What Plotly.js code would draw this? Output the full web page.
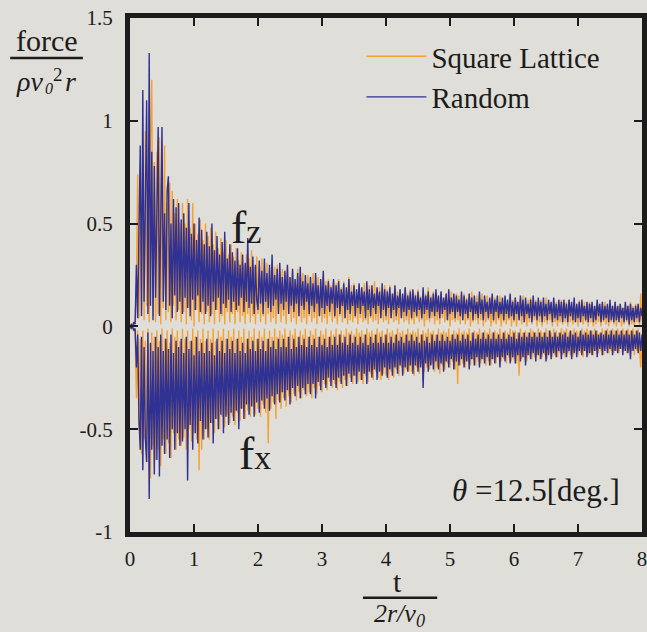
<!DOCTYPE html>
<html>
<head>
<meta charset="utf-8">
<script src="https://cdn.plot.ly/plotly-3.0.1.min.js"></script>
<style>html,body{margin:0;padding:0;background:#e0ded9;}#chart{width:647px;height:632px;}</style>
</head>
<body>
<div id="chart"></div>
<script>
// Sampling: t starts at 0, step 0.02 (in units of 2r/v0), 401 samples per series
const tStart = 0;
const tStep = 0.02;

const fzSquare = [
0,0,0.01,0.02,0.03,0.2,0.74,0.04,0.5,0.08,0.7,0.03,0.95,0.1,0.6,0.02,0.9,1.2,0.05,0.8,
0.02,0.85,0.06,0.92,0.01,0.75,0.09,0.88,0.03,0.6,0.07,0.7,0.02,0.66,0.1,0.55,0.03,0.62,0.08,0.5,
0.02,0.6,0.07,0.5,0.01,0.62,0.09,0.48,0.03,0.6,0.0,0.5,0.08,0.45,0.02,0.52,0.06,0.42,0.01,0.5,
0.07,0.44,0.02,0.48,0.06,0.4,0.01,0.46,0.08,0.38,0.02,0.43,0.05,0.36,0.01,0.42,0.07,0.35,0.02,0.4,
0.06,0.34,0.01,0.38,0.07,0.32,0.02,0.36,0.05,0.3,0.01,0.35,0.06,0.33,0.02,0.37,0.05,0.29,0.01,0.34,
0.06,0.3,0.02,0.33,0.05,0.28,0.01,0.31,0.06,0.27,0.02,0.32,0.04,0.29,0.01,0.3,0.06,0.26,0.02,0.28,
0.05,0.26,0.01,0.29,0.06,0.24,0.02,0.27,0.04,0.23,0.01,0.28,0.05,0.25,0.02,0.26,0.04,0.22,0.01,0.25,
0.05,0.23,0.02,0.26,0.04,0.21,0.01,0.24,0.05,0.2,0.02,0.25,0.04,0.22,0.01,0.23,0.05,0.2,0.02,0.22,
0.04,0.21,0.01,0.23,0.05,0.19,0.02,0.22,0.04,0.18,0.01,0.24,0.03,0.2,0.02,0.21,0.04,0.18,0.01,0.2,
0.04,0.19,0.02,0.21,0.03,0.18,0.01,0.2,0.04,0.17,0.02,0.22,0.03,0.18,0.01,0.19,0.04,0.17,0.02,0.2,
0.03,0.18,0.01,0.2,0.04,0.16,0.02,0.19,0.03,0.17,0.01,0.18,0.04,0.15,0.02,0.19,0.03,0.16,0.01,0.18,
0.03,0.17,0.01,0.16,0.04,0.18,0.02,0.15,0.03,0.17,0.0,0.16,0.03,0.19,0.02,0.15,0.04,0.17,0.01,0.16,
0.03,0.15,0.01,0.17,0.04,0.14,0.02,0.16,0.03,0.15,0.0,0.17,0.03,0.14,0.02,0.16,0.03,0.15,0.01,0.14,
0.03,0.16,0.01,0.14,0.03,0.15,0.0,0.17,0.02,0.13,0.03,0.15,0.01,0.14,0.03,0.16,0.0,0.13,0.02,0.15,
0.03,0.13,0.0,0.15,0.02,0.14,0.01,0.12,0.03,0.15,0.0,0.13,0.02,0.14,0.01,0.12,0.03,0.15,0.0,0.13,
0.02,0.14,0.0,0.12,0.03,0.13,0.01,0.15,0.02,0.11,0.0,0.13,0.02,0.14,0.01,0.12,0.03,0.13,0.0,0.12,
0.02,0.13,0.0,0.11,0.02,0.14,0.01,0.12,0.03,0.11,0.0,0.13,0.02,0.12,0.0,0.11,0.02,0.13,0.01,0.12,
0.02,0.12,0.0,0.13,0.02,0.1,0.01,0.12,0.02,0.11,0.0,0.13,0.02,0.1,0.01,0.12,0.02,0.11,0.0,0.12,
0.02,0.11,0.0,0.1,0.01,0.12,0.02,0.1,0.0,0.11,0.02,0.12,0.01,0.1,0.0,0.11,0.02,0.1,0.01,0.12,
0.0,0.1,0.02,0.11,0.0,0.09,0.01,0.11,0.02,0.1,0.0,0.12,0.01,0.1,0.0,0.11,0.02,0.1,0.0,0.16,
0.03];

const fzRandom = [
0,0.01,0,0.02,0.01,0.3,0.04,0.62,0.88,0.05,1.15,0.12,0.7,1.1,0.06,1.33,0.1,0.85,0.03,0.78,
0.14,0.6,0.97,0.05,0.7,0.97,0.12,0.55,0.08,0.66,0.73,0.1,0.5,0.04,0.62,0.15,0.58,0.07,0.6,0.12,
0.52,0.06,0.55,0.14,0.48,0.09,0.6,0.05,0.45,0.13,0.5,0.08,0.42,0.15,0.53,0.07,0.47,0.12,0.4,0.06,
0.46,0.1,0.39,0.05,0.5,0.12,0.37,0.08,0.44,0.14,0.35,0.06,0.41,0.11,0.46,0.09,0.33,0.13,0.4,0.07,
0.36,0.12,0.32,0.08,0.38,0.1,0.3,0.14,0.35,0.07,0.31,0.12,0.43,0.09,0.29,0.11,0.34,0.06,0.3,0.13,
0.08,0.32,0.11,0.27,0.06,0.33,0.12,0.26,0.09,0.3,0.07,0.35,0.1,0.25,0.13,0.28,0.06,0.31,0.11,0.24,
0.08,0.27,0.12,0.3,0.06,0.24,0.1,0.28,0.07,0.23,0.11,0.26,0.05,0.29,0.1,0.22,0.08,0.25,0.12,0.21,
0.06,0.24,0.1,0.21,0.07,0.26,0.11,0.2,0.05,0.23,0.09,0.27,0.06,0.2,0.1,0.22,0.07,0.19,0.11,0.23,
0.05,0.2,0.09,0.22,0.06,0.18,0.1,0.21,0.04,0.19,0.08,0.23,0.06,0.17,0.1,0.2,0.05,0.18,0.09,0.21,
0.06,0.19,0.1,0.17,0.04,0.22,0.08,0.18,0.05,0.2,0.09,0.16,0.06,0.19,0.1,0.17,0.04,0.21,0.08,0.18,
0.05,0.17,0.09,0.19,0.04,0.16,0.08,0.2,0.05,0.15,0.09,0.18,0.04,0.16,0.07,0.19,0.05,0.15,0.08,0.17,
0.04,0.18,0.07,0.15,0.05,0.17,0.08,0.14,0.04,0.19,0.06,0.15,0.08,0.17,0.04,0.14,0.07,0.16,0.05,0.18,
0.07,0.15,0.04,0.17,0.06,0.14,0.08,0.16,0.03,0.18,0.06,0.14,0.07,0.16,0.04,0.15,0.07,0.13,0.05,0.17,
0.03,0.15,0.06,0.13,0.04,0.16,0.07,0.14,0.03,0.15,0.06,0.12,0.04,0.17,0.06,0.13,0.03,0.15,0.07,0.12,
0.04,0.14,0.06,0.16,0.03,0.13,0.07,0.15,0.04,0.12,0.06,0.14,0.03,0.15,0.06,0.13,0.04,0.16,0.05,0.12,
0.03,0.14,0.06,0.12,0.03,0.15,0.05,0.13,0.02,0.14,0.06,0.11,0.04,0.13,0.02,0.15,0.05,0.12,0.03,0.14,
0.05,0.12,0.02,0.14,0.05,0.11,0.03,0.13,0.06,0.12,0.02,0.14,0.04,0.11,0.03,0.13,0.05,0.12,0.02,0.13,
0.04,0.11,0.02,0.13,0.05,0.12,0.03,0.14,0.02,0.11,0.04,0.12,0.02,0.13,0.05,0.1,0.03,0.12,0.02,0.11,
0.04,0.12,0.02,0.1,0.03,0.13,0.05,0.11,0.02,0.12,0.03,0.1,0.04,0.11,0.02,0.13,0.03,0.1,0.02,0.12,
0.03,0.1,0.02,0.11,0.04,0.09,0.02,0.12,0.03,0.1,0.01,0.11,0.03,0.09,0.02,0.1,0.04,0.11,0.02,0.09,
0.05];

const fxSquare = [
0,0,-0.01,-0.02,-0.03,-0.35,-0.02,-0.5,-0.06,-0.62,-0.02,-0.55,-0.07,-0.66,-0.01,-0.6,-0.74,-0.03,-0.58,-0.05,
-0.65,-0.02,-0.6,-0.07,-0.68,-0.01,-0.55,-0.06,-0.62,-0.02,-0.57,-0.08,-0.64,-0.01,-0.52,-0.05,-0.6,-0.02,-0.55,-0.07,
-0.58,-0.01,-0.54,-0.06,-0.6,-0.02,-0.5,-0.07,-0.56,-0.01,-0.52,-0.05,-0.55,-0.02,-0.7,-0.06,-0.6,-0.01,-0.55,-0.07,
-0.5,-0.02,-0.55,-0.06,-0.47,-0.01,-0.52,-0.07,-0.45,-0.02,-0.5,-0.05,-0.44,-0.01,-0.49,-0.06,-0.43,-0.02,-0.47,-0.05,
-0.44,-0.01,-0.48,-0.06,-0.42,-0.02,-0.46,-0.05,-0.4,-0.01,-0.45,-0.06,-0.41,-0.02,-0.44,-0.05,-0.39,-0.01,-0.43,-0.06,
-0.4,-0.02,-0.44,-0.05,-0.38,-0.01,-0.42,-0.06,-0.57,-0.02,-0.4,-0.05,-0.37,-0.01,-0.45,-0.05,-0.36,-0.02,-0.4,-0.04,
-0.35,-0.01,-0.39,-0.05,-0.34,-0.02,-0.37,-0.04,-0.33,-0.01,-0.36,-0.05,-0.32,-0.02,-0.35,-0.04,-0.31,-0.01,-0.34,-0.05,
-0.32,-0.02,-0.35,-0.04,-0.3,-0.01,-0.33,-0.05,-0.29,-0.02,-0.32,-0.04,-0.28,-0.01,-0.31,-0.05,-0.27,-0.02,-0.3,-0.04,
-0.28,-0.01,-0.31,-0.04,-0.27,-0.02,-0.3,-0.04,-0.26,-0.01,-0.29,-0.03,-0.25,-0.02,-0.28,-0.04,-0.24,-0.01,-0.27,-0.03,
-0.26,-0.02,-0.28,-0.04,-0.24,-0.01,-0.27,-0.03,-0.23,-0.02,-0.26,-0.04,-0.22,-0.01,-0.25,-0.03,-0.26,-0.02,-0.23,-0.04,
-0.24,-0.01,-0.26,-0.03,-0.22,-0.02,-0.25,-0.04,-0.21,-0.01,-0.24,-0.03,-0.2,-0.02,-0.23,-0.04,-0.21,-0.01,-0.22,-0.03,
-0.22,-0.02,-0.24,-0.03,-0.2,-0.01,-0.23,-0.04,-0.19,-0.02,-0.22,-0.03,-0.2,-0.01,-0.21,-0.03,-0.18,-0.02,-0.22,-0.04,
-0.2,-0.01,-0.23,-0.03,-0.19,-0.02,-0.21,-0.03,-0.18,-0.01,-0.2,-0.04,-0.17,-0.02,-0.21,-0.03,-0.28,-0.01,-0.19,-0.03,
-0.18,-0.02,-0.2,-0.03,-0.17,-0.01,-0.19,-0.03,-0.16,-0.02,-0.19,-0.03,-0.17,-0.01,-0.18,-0.03,-0.16,-0.02,-0.19,-0.03,
-0.17,-0.01,-0.19,-0.03,-0.16,-0.02,-0.18,-0.03,-0.15,-0.01,-0.17,-0.03,-0.16,-0.02,-0.18,-0.03,-0.15,-0.01,-0.17,-0.02,
-0.16,-0.02,-0.18,-0.03,-0.24,-0.01,-0.16,-0.03,-0.15,-0.02,-0.17,-0.03,-0.14,-0.01,-0.16,-0.02,-0.15,-0.03,-0.14,-0.01,
-0.16,-0.02,-0.15,-0.03,-0.14,-0.01,-0.16,-0.02,-0.13,-0.03,-0.15,-0.01,-0.14,-0.02,-0.15,-0.03,-0.13,-0.01,-0.14,-0.02,
-0.15,-0.01,-0.13,-0.03,-0.14,-0.02,-0.15,-0.01,-0.12,-0.02,-0.14,-0.03,-0.13,-0.01,-0.15,-0.02,-0.12,-0.01,-0.14,-0.02,
-0.13,-0.02,-0.14,-0.01,-0.12,-0.02,-0.13,-0.03,-0.12,-0.01,-0.14,-0.02,-0.11,-0.01,-0.13,-0.02,-0.12,-0.01,-0.13,-0.02,
-0.12,-0.01,-0.13,-0.02,-0.11,-0.01,-0.12,-0.02,-0.13,-0.01,-0.11,-0.02,-0.12,-0.01,-0.14,-0.02,-0.12,-0.01,-0.13,-0.2,
-0.08];

const fxRandom = [
0,-0.01,0,-0.02,-0.01,-0.2,-0.04,-0.45,-0.6,-0.05,-0.7,-0.1,-0.55,-0.66,-0.03,-0.84,-0.08,-0.6,-0.12,-0.72,
-0.05,-0.65,-0.1,-0.73,-0.04,-0.58,-0.12,-0.62,-0.06,-0.55,-0.11,-0.64,-0.04,-0.5,-0.13,-0.6,-0.07,-0.52,-0.1,-0.58,
-0.06,-0.56,-0.13,-0.5,-0.05,-0.75,-0.11,-0.48,-0.07,-0.6,-0.14,-0.52,-0.05,-0.57,-0.12,-0.46,-0.08,-0.55,-0.13,-0.5,
-0.06,-0.54,-0.12,-0.47,-0.08,-0.57,-0.14,-0.45,-0.06,-0.5,-0.12,-0.43,-0.07,-0.52,-0.13,-0.44,-0.06,-0.48,-0.11,-0.42,
-0.07,-0.46,-0.13,-0.41,-0.06,-0.5,-0.12,-0.4,-0.08,-0.45,-0.13,-0.38,-0.06,-0.43,-0.11,-0.39,-0.07,-0.44,-0.12,-0.37,
-0.06,-0.42,-0.11,-0.36,-0.07,-0.4,-0.12,-0.35,-0.06,-0.41,-0.1,-0.34,-0.07,-0.38,-0.11,-0.33,-0.06,-0.37,-0.1,-0.32,
-0.06,-0.36,-0.1,-0.31,-0.05,-0.38,-0.11,-0.3,-0.06,-0.34,-0.1,-0.29,-0.05,-0.35,-0.09,-0.3,-0.06,-0.33,-0.1,-0.28,
-0.05,-0.33,-0.09,-0.28,-0.06,-0.35,-0.1,-0.27,-0.05,-0.31,-0.09,-0.26,-0.06,-0.3,-0.1,-0.25,-0.05,-0.29,-0.09,-0.26,
-0.05,-0.3,-0.09,-0.25,-0.04,-0.28,-0.08,-0.24,-0.05,-0.29,-0.09,-0.23,-0.04,-0.27,-0.08,-0.24,-0.05,-0.28,-0.09,-0.22,
-0.05,-0.26,-0.08,-0.23,-0.04,-0.28,-0.09,-0.22,-0.05,-0.25,-0.08,-0.21,-0.04,-0.26,-0.08,-0.22,-0.05,-0.24,-0.08,-0.2,
-0.04,-0.25,-0.08,-0.21,-0.05,-0.24,-0.08,-0.2,-0.04,-0.23,-0.07,-0.19,-0.05,-0.24,-0.08,-0.2,-0.04,-0.22,-0.07,-0.19,
-0.04,-0.23,-0.07,-0.19,-0.05,-0.22,-0.08,-0.2,-0.04,-0.3,-0.07,-0.18,-0.05,-0.22,-0.08,-0.19,-0.04,-0.21,-0.07,-0.17,
-0.04,-0.21,-0.07,-0.18,-0.04,-0.22,-0.07,-0.17,-0.05,-0.2,-0.07,-0.16,-0.04,-0.21,-0.06,-0.17,-0.04,-0.19,-0.07,-0.16,
-0.04,-0.2,-0.06,-0.17,-0.04,-0.21,-0.07,-0.16,-0.03,-0.19,-0.06,-0.15,-0.04,-0.2,-0.06,-0.16,-0.03,-0.18,-0.06,-0.15,
-0.04,-0.19,-0.06,-0.16,-0.03,-0.18,-0.06,-0.15,-0.04,-0.2,-0.06,-0.15,-0.03,-0.17,-0.06,-0.14,-0.04,-0.18,-0.05,-0.15,
-0.03,-0.18,-0.06,-0.14,-0.03,-0.17,-0.05,-0.15,-0.03,-0.19,-0.05,-0.14,-0.03,-0.16,-0.05,-0.13,-0.03,-0.17,-0.05,-0.14,
-0.03,-0.16,-0.05,-0.13,-0.03,-0.17,-0.05,-0.14,-0.02,-0.16,-0.05,-0.13,-0.03,-0.15,-0.05,-0.12,-0.03,-0.16,-0.04,-0.13,
-0.03,-0.15,-0.05,-0.12,-0.02,-0.16,-0.04,-0.13,-0.03,-0.15,-0.05,-0.12,-0.02,-0.14,-0.04,-0.12,-0.03,-0.15,-0.04,-0.13,
-0.02,-0.14,-0.04,-0.12,-0.02,-0.15,-0.04,-0.11,-0.03,-0.14,-0.04,-0.12,-0.02,-0.13,-0.04,-0.11,-0.02,-0.14,-0.04,-0.12,
-0.02,-0.13,-0.04,-0.11,-0.02,-0.14,-0.04,-0.12,-0.02,-0.13,-0.04,-0.16,-0.02,-0.12,-0.04,-0.11,-0.02,-0.13,-0.03,-0.12,
-0.04];

const seriesNames = ['Square Lattice', 'Random'];
const xTickVals = [0,1,2,3,4,5,6,7,8];
const xTickText = ['0','1','2','3','4','5','6','7','8'];
const yTickVals = [-1,-0.5,0,0.5,1,1.5];
const yTickText = ['-1','-0.5','0','0.5','1','1.5'];

const ORANGE = '#f6a131';
const BLUE = '#2f3193';
const INK = '#1c1c1c';
const SERIF = 'Liberation Serif, Times New Roman, serif';

function tr(y, color, name, show) {
  return {type:'scatter', mode:'lines', x0:tStart, dx:tStep, y:y,
    line:{color:color, width:1.4}, name:name, showlegend:show, legendgroup:name, hoverinfo:'skip'};
}

const data = [
  tr(fzSquare, ORANGE, seriesNames[0], true),
  tr(fxSquare, ORANGE, seriesNames[0], false),
  tr(fzRandom, BLUE, seriesNames[1], true),
  tr(fxRandom, BLUE, seriesNames[1], false)
];

const axisCommon = {
  showline:true, linewidth:5, linecolor:INK, mirror:'ticks',
  ticks:'inside', ticklen:8, tickwidth:2, tickcolor:INK,
  showgrid:false, zeroline:false, tickmode:'array', ticklabeloverflow:'allow',
  tickfont:{family:SERIF, size:21, color:INK}
};

function note(x, y, text, size, extra) {
  return Object.assign({xref:'paper', yref:'paper', x:x, y:y, xanchor:'center', yanchor:'middle',
    text:text, showarrow:false, font:{family:SERIF, size:size, color:INK}}, extra || {});
}

const layout = {
  width:647, height:632,
  margin:{l:130, r:5, t:18, b:100},
  paper_bgcolor:'#e0ded9', plot_bgcolor:'#e0ded9',
  font:{family:SERIF, color:INK},
  showlegend:true,
  legend:{x:0.452, y:0.975, xanchor:'left', yanchor:'top', bgcolor:'rgba(0,0,0,0)',
    font:{family:SERIF, size:29, color:INK}, itemwidth:60, tracegroupgap:0},
  xaxis:Object.assign({}, axisCommon, {range:[0,8], tickvals:xTickVals, ticktext:xTickText, ticklabelstandoff:4}),
  yaxis:Object.assign({}, axisCommon, {range:[-1,1.5], tickvals:yTickVals, ticktext:yTickText, ticklabelstandoff:8}),
  shapes:[
    {type:'line', xref:'paper', yref:'paper', x0:-0.234, x1:-0.092, y0:0.922, y1:0.922, line:{color:INK, width:2.5}},
    {type:'line', xref:'paper', yref:'paper', x0:0.455, x1:0.600, y0:-0.128, y1:-0.128, line:{color:INK, width:2.5}}
  ],
  annotations:[
    {xref:'x', yref:'y', x:1.82, y:0.48, xanchor:'center', yanchor:'middle', text:"f<span style='font-size:34px'>z</span>", showarrow:false,
      font:{family:SERIF, size:46, color:INK}},
    {xref:'x', yref:'y', x:1.95, y:-0.62, xanchor:'center', yanchor:'middle', text:"f<span style='font-size:34px'>x</span>", showarrow:false,
      font:{family:SERIF, size:46, color:INK}},
    {xref:'x', yref:'y', x:6.34, y:-0.8, xanchor:'center', yanchor:'middle', text:"<i>θ</i> =12.5[deg.]", showarrow:false,
      font:{family:SERIF, size:31, color:INK}},
    note(-0.162, 0.957, 'force', 30),
    note(-0.197, 0.877, '<i>ρv</i>', 28),
    note(-0.158, 0.862, '<i>0</i>', 16),
    note(-0.141, 0.890, '2', 19),
    note(-0.117, 0.877, '<i>r</i>', 28),
    note(0.523, -0.097, 't', 30),
    note(0.527, -0.161, "<i>2r/v<sub>0</sub></i>", 26)
  ]
};

Plotly.newPlot('chart', data, layout, {staticPlot:true, displayModeBar:false});
</script>
</body>
</html>
